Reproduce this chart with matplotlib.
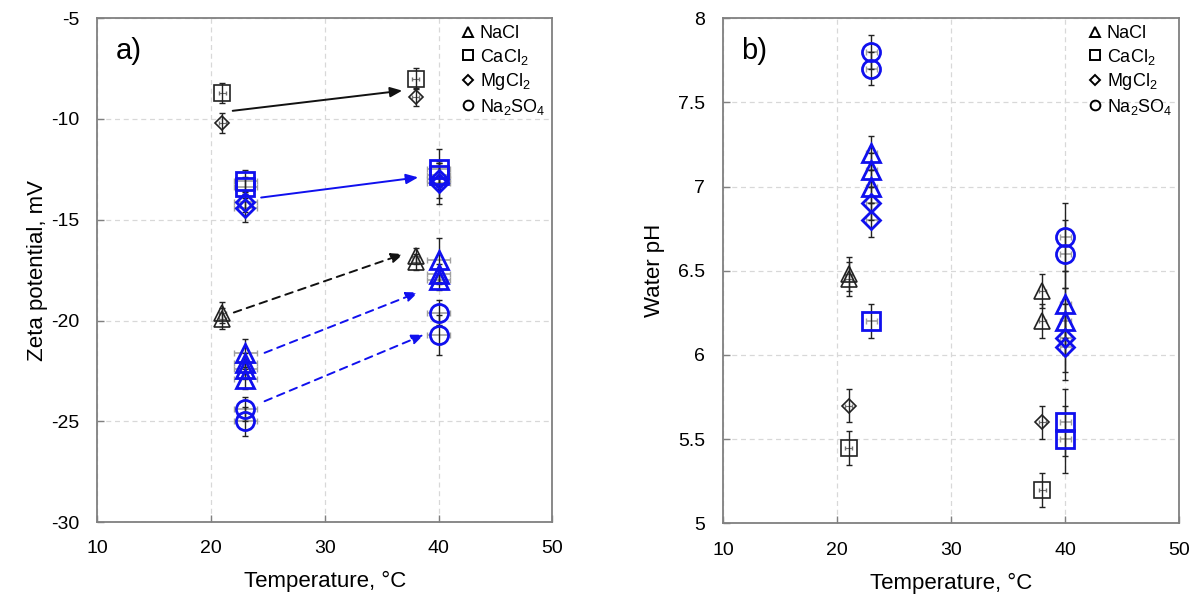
import matplotlib
matplotlib.use('Agg')
import matplotlib.pyplot as plt
from matplotlib.lines import Line2D
from matplotlib.ticker import FuncFormatter

plt.rcParams['font.family'] = ['Liberation Sans', 'DejaVu Sans']
plt.rcParams['mathtext.fontset'] = 'custom'
plt.rcParams['mathtext.rm'] = 'Liberation Sans'
plt.rcParams['mathtext.default'] = 'regular'
plt.rcParams['axes.unicode_minus'] = False

salts = ['NaCl', 'CaCl$_2$', 'MgCl$_2$', 'Na$_2$SO$_4$']

# a) zeta potential, mV  (black = first set, blue = second set)
zeta_nacl_black_t = [21, 21, 38, 38]
zeta_nacl_black = [-19.6, -19.9, -16.8, -17.1]
zeta_nacl_black_err = [0.5, 0.5, 0.4, 0.4]
zeta_cacl2_black_t = [21, 38]
zeta_cacl2_black = [-8.7, -8.0]
zeta_cacl2_black_err = [0.5, 0.5]
zeta_mgcl2_black_t = [21, 38]
zeta_mgcl2_black = [-10.2, -8.9]
zeta_mgcl2_black_err = [0.5, 0.45]

zeta_nacl_blue_t = [23, 23, 23, 23, 40, 40, 40]
zeta_nacl_blue = [-21.6, -22.1, -22.4, -22.9, -17.0, -17.7, -18.0]
zeta_nacl_blue_err = [0.7, 0.5, 0.5, 0.5, 1.1, 0.5, 0.5]
zeta_cacl2_blue_t = [23, 23, 40, 40]
zeta_cacl2_blue = [-13.1, -13.4, -12.5, -12.8]
zeta_cacl2_blue_err = [0.55, 0.5, 1.0, 0.6]
zeta_mgcl2_blue_t = [23, 23, 40, 40]
zeta_mgcl2_blue = [-14.1, -14.4, -13.0, -13.2]
zeta_mgcl2_blue_err = [0.5, 0.7, 0.9, 1.0]
zeta_na2so4_blue_t = [23, 23, 40, 40]
zeta_na2so4_blue = [-24.4, -25.0, -19.6, -20.7]
zeta_na2so4_blue_err = [0.6, 0.7, 0.6, 1.0]

# arrows in panel a: tail and head (temperature, zeta)
arrow_tail = [(21.9, -9.6), (24.4, -13.9), (22.0, -19.6), (24.7, -21.6), (24.7, -24.0)]
arrow_head = [(36.8, -8.6), (38.2, -12.9), (36.9, -16.7), (38.2, -18.6), (38.7, -20.7)]

# b) water pH
ph_nacl_black_t = [21, 21, 38, 38]
ph_nacl_black = [6.48, 6.45, 6.38, 6.2]
ph_nacl_black_err = [0.1, 0.1, 0.1, 0.1]
ph_cacl2_black_t = [21, 38]
ph_cacl2_black = [5.45, 5.2]
ph_cacl2_black_err = [0.1, 0.1]
ph_mgcl2_black_t = [21, 38]
ph_mgcl2_black = [5.7, 5.6]
ph_mgcl2_black_err = [0.1, 0.1]

ph_nacl_blue_t = [23, 23, 23, 40, 40]
ph_nacl_blue = [7.2, 7.1, 7.0, 6.3, 6.2]
ph_nacl_blue_err = [0.1, 0.1, 0.1, 0.2, 0.2]
ph_cacl2_blue_t = [23, 40, 40]
ph_cacl2_blue = [6.2, 5.6, 5.5]
ph_cacl2_blue_err = [0.1, 0.2, 0.2]
ph_mgcl2_blue_t = [23, 23, 40, 40]
ph_mgcl2_blue = [6.9, 6.8, 6.1, 6.05]
ph_mgcl2_blue_err = [0.1, 0.1, 0.2, 0.2]
ph_na2so4_blue_t = [23, 23, 40, 40]
ph_na2so4_blue = [7.8, 7.7, 6.7, 6.6]
ph_na2so4_blue_err = [0.1, 0.1, 0.2, 0.2]

BLUE = '#1010ee'


def draw(ax, t, y, yerr, marker, blue, xerr):
    if blue:
        ax.errorbar(t, y, xerr=xerr, fmt='none', ecolor='#a0a0a0', elinewidth=1.2, capsize=2, zorder=2)
    else:
        ax.errorbar(t, y, xerr=xerr, fmt='none', ecolor='#707070', elinewidth=0.8, capsize=1.5, zorder=2)
    ax.errorbar(t, y, yerr=yerr, fmt='none', ecolor='#222222', elinewidth=1.0, capsize=2.5, zorder=3)
    sizes = {'^': (12, 13.5), 's': (11.3, 13), 'D': (7.5, 9), 'o': (12, 13)}
    ms = sizes[marker][1] if blue else sizes[marker][0]
    ax.plot(t, y, linestyle='none', marker=marker, ms=ms, mfc='none',
            mec=BLUE if blue else '#222222', mew=2.0 if blue else 1.2, zorder=4)


fig = plt.figure(figsize=(12.01, 6.01), dpi=100)
ax1 = fig.add_axes([0.081, 0.131, 0.379, 0.839])
ax2 = fig.add_axes([0.602, 0.129, 0.380, 0.841])

draw(ax1, zeta_nacl_black_t, zeta_nacl_black, zeta_nacl_black_err, '^', False, 0.3)
draw(ax1, zeta_cacl2_black_t, zeta_cacl2_black, zeta_cacl2_black_err, 's', False, 0.3)
draw(ax1, zeta_mgcl2_black_t, zeta_mgcl2_black, zeta_mgcl2_black_err, 'D', False, 0.3)
draw(ax1, zeta_nacl_blue_t, zeta_nacl_blue, zeta_nacl_blue_err, '^', True, 1.0)
draw(ax1, zeta_cacl2_blue_t, zeta_cacl2_blue, zeta_cacl2_blue_err, 's', True, 1.0)
draw(ax1, zeta_mgcl2_blue_t, zeta_mgcl2_blue, zeta_mgcl2_blue_err, 'D', True, 1.0)
draw(ax1, zeta_na2so4_blue_t, zeta_na2so4_blue, zeta_na2so4_blue_err, 'o', True, 1.0)

arrow_colors = ['#111111', BLUE, '#111111', BLUE, BLUE]
arrow_styles = ['-', '-', (0, (4, 3)), (0, (4, 3)), (0, (4, 3))]
for tail, head, c, ls in zip(arrow_tail, arrow_head, arrow_colors, arrow_styles):
    ax1.annotate('', xy=head, xytext=tail,
                 arrowprops=dict(arrowstyle='-|>,head_length=0.6,head_width=0.25',
                                 color=c, lw=1.4, linestyle=ls, mutation_scale=12,
                                 shrinkA=0, shrinkB=0))

draw(ax2, ph_nacl_black_t, ph_nacl_black, ph_nacl_black_err, '^', False, 0.3)
draw(ax2, ph_cacl2_black_t, ph_cacl2_black, ph_cacl2_black_err, 's', False, 0.3)
draw(ax2, ph_mgcl2_black_t, ph_mgcl2_black, ph_mgcl2_black_err, 'D', False, 0.3)
draw(ax2, ph_nacl_blue_t, ph_nacl_blue, ph_nacl_blue_err, '^', True, 0.5)
draw(ax2, ph_cacl2_blue_t, ph_cacl2_blue, ph_cacl2_blue_err, 's', True, 0.5)
draw(ax2, ph_mgcl2_blue_t, ph_mgcl2_blue, ph_mgcl2_blue_err, 'D', True, 0.5)
draw(ax2, ph_na2so4_blue_t, ph_na2so4_blue, ph_na2so4_blue_err, 'o', True, 0.5)

legend_markers = ['^', 's', 'D', 'o']
legend_sizes = [7, 7, 5, 7]
handles = [Line2D([], [], linestyle='none', marker=m, ms=s, mfc='none', mec='black', mew=1.4)
           for m, s in zip(legend_markers, legend_sizes)]

for ax, ylim, yticks, ylabel, ypad, tag in [
        (ax1, (-30, -5), range(-30, -4, 5), 'Zeta potential, mV', 2, 'a)'),
        (ax2, (5, 8), [5, 5.5, 6, 6.5, 7, 7.5, 8], 'Water pH', 9, 'b)')]:
    ax.set_xlim(10, 50)
    ax.set_ylim(*ylim)
    ax.set_xticks([10, 20, 30, 40, 50])
    ax.set_yticks(list(yticks))
    ax.yaxis.set_major_formatter(FuncFormatter(lambda v, p: '{:g}'.format(v)))
    ax.grid(True, color='#d8d8d8', linestyle=(0, (4, 3)), linewidth=0.9)
    ax.set_axisbelow(True)
    ax.tick_params(direction='in', length=5, width=1.0, color='#808080', labelsize=14)
    ax.tick_params(axis='x', pad=13)
    ax.tick_params(axis='y', pad=13)
    for sp in ax.spines.values():
        sp.set_color('#808080')
        sp.set_linewidth(1.3)
    ax.set_xlabel('Temperature, °C', fontsize=16, labelpad=10)
    ax.set_ylabel(ylabel, fontsize=16, labelpad=ypad)
    ax.text(0.04, 0.935, tag, transform=ax.transAxes, fontsize=21, va='center', ha='left')
    ax.legend(handles, salts, loc='upper right', frameon=False, fontsize=13,
              handlelength=0.8, handletextpad=0.25, labelspacing=0.25,
              borderaxespad=0.1, borderpad=0.3)

fig.savefig('out.png', dpi=100)
